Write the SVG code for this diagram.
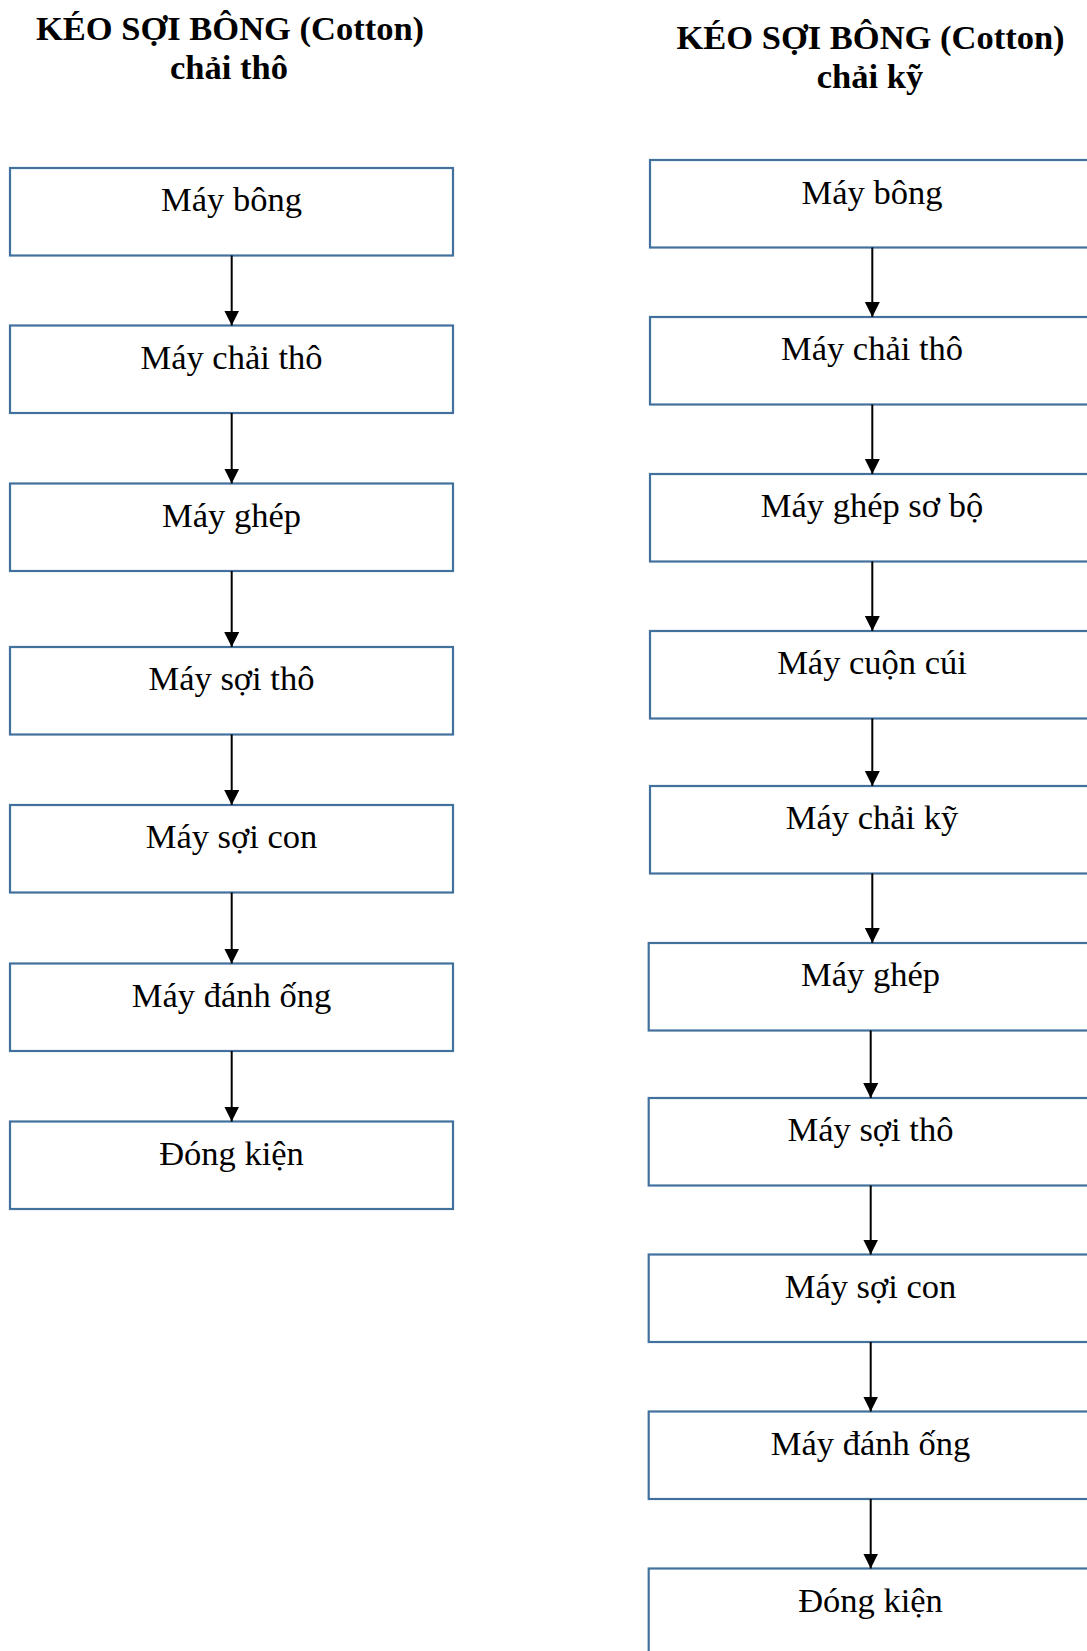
<svg xmlns="http://www.w3.org/2000/svg" width="1087" height="1651" viewBox="0 0 1087 1651">
  <style>
    .box { fill: #ffffff; stroke: #41719C; stroke-width: 2.2; }
    .lbl { font-family: "Liberation Serif", "Times New Roman", serif; font-size: 34.5px; fill: #000; text-anchor: middle; }
    .ttl { font-family: "Liberation Serif", "Times New Roman", serif; font-size: 34.5px; font-weight: bold; fill: #000; text-anchor: middle; }
    .conn { stroke: #000; stroke-width: 2; fill: none; marker-end: url(#arrow); }
  </style>
  <defs>
    <marker id="arrow" markerUnits="userSpaceOnUse" markerWidth="15" markerHeight="16" refX="15" refY="7.5" orient="auto">
      <path d="M0,0 L15,7.5 L0,15 Z" fill="#000"/>
    </marker>
  </defs>
  <rect width="1087" height="1651" fill="#ffffff"/>

  <!-- Titles -->
  <g id="title-carded">
    <text class="ttl" x="230" y="40">KÉO SỢI BÔNG (Cotton)</text>
    <text class="ttl" x="229" y="79">chải thô</text>
  </g>
  <g id="title-combed">
    <text class="ttl" x="870.5" y="49">KÉO SỢI BÔNG (Cotton)</text>
    <text class="ttl" x="870" y="88">chải kỹ</text>
  </g>

  <!-- Carded line (left) -->
  <g id="L1"><rect class="box" x="10" y="168" width="443" height="87.5"/><text class="lbl" x="231.5" y="211">Máy bông</text></g>
  <g id="L2"><rect class="box" x="10" y="325.5" width="443" height="87.5"/><text class="lbl" x="231.5" y="368.5">Máy chải thô</text></g>
  <g id="L3"><rect class="box" x="10" y="483.5" width="443" height="87.5"/><text class="lbl" x="231.5" y="526.5">Máy ghép</text></g>
  <g id="L4"><rect class="box" x="10" y="647" width="443" height="87.5"/><text class="lbl" x="231.5" y="690">Máy sợi thô</text></g>
  <g id="L5"><rect class="box" x="10" y="805" width="443" height="87.5"/><text class="lbl" x="231.5" y="848">Máy sợi con</text></g>
  <g id="L6"><rect class="box" x="10" y="963.5" width="443" height="87.5"/><text class="lbl" x="231.5" y="1006.5">Máy đánh ống</text></g>
  <g id="L7"><rect class="box" x="10" y="1121.5" width="443" height="87.5"/><text class="lbl" x="231.5" y="1164.5">Đóng kiện</text></g>

  <!-- Combed line (right) -->
  <g id="R1"><rect class="box" x="650" y="160" width="443" height="87.5"/><text class="lbl" x="872" y="204">Máy bông</text></g>
  <g id="R2"><rect class="box" x="650" y="317" width="443" height="87.5"/><text class="lbl" x="872" y="360">Máy chải thô</text></g>
  <g id="R3"><rect class="box" x="650" y="474" width="443" height="87.5"/><text class="lbl" x="872" y="517">Máy ghép sơ bộ</text></g>
  <g id="R4"><rect class="box" x="650" y="631" width="443" height="87.5"/><text class="lbl" x="872" y="674">Máy cuộn cúi</text></g>
  <g id="R5"><rect class="box" x="650" y="786" width="443" height="87.5"/><text class="lbl" x="872" y="829">Máy chải kỹ</text></g>
  <g id="R6"><rect class="box" x="648.7" y="943" width="443" height="87.5"/><text class="lbl" x="870.5" y="986">Máy ghép</text></g>
  <g id="R7"><rect class="box" x="648.7" y="1098" width="443" height="87.5"/><text class="lbl" x="870.5" y="1141">Máy sợi thô</text></g>
  <g id="R8"><rect class="box" x="648.7" y="1254.5" width="443" height="87.5"/><text class="lbl" x="870.5" y="1297.5">Máy sợi con</text></g>
  <g id="R9"><rect class="box" x="648.7" y="1411.5" width="443" height="87.5"/><text class="lbl" x="870.5" y="1454.5">Máy đánh ống</text></g>
  <g id="R10"><rect class="box" x="648.7" y="1568.5" width="443" height="87.5"/><text class="lbl" x="870.5" y="1611.5">Đóng kiện</text></g>

  <!-- Connectors -->
  <g id="connectors">
    <line class="conn" x1="231.7" y1="255.5" x2="231.7" y2="325.5"/>
    <line class="conn" x1="231.7" y1="413" x2="231.7" y2="483.5"/>
    <line class="conn" x1="231.7" y1="571" x2="231.7" y2="647"/>
    <line class="conn" x1="231.7" y1="734.5" x2="231.7" y2="805"/>
    <line class="conn" x1="231.7" y1="892.5" x2="231.7" y2="963.5"/>
    <line class="conn" x1="231.7" y1="1051" x2="231.7" y2="1121.5"/>

    <line class="conn" x1="872.3" y1="247.5" x2="872.3" y2="317"/>
    <line class="conn" x1="872.3" y1="404.5" x2="872.3" y2="474"/>
    <line class="conn" x1="872.3" y1="561.5" x2="872.3" y2="631"/>
    <line class="conn" x1="872.3" y1="718.5" x2="872.3" y2="786"/>
    <line class="conn" x1="872.3" y1="873.5" x2="872.3" y2="943"/>
    <line class="conn" x1="870.7" y1="1030.5" x2="870.7" y2="1098"/>
    <line class="conn" x1="870.7" y1="1185.5" x2="870.7" y2="1254.5"/>
    <line class="conn" x1="870.7" y1="1342" x2="870.7" y2="1411.5"/>
    <line class="conn" x1="870.7" y1="1499" x2="870.7" y2="1568.5"/>
  </g>
</svg>
